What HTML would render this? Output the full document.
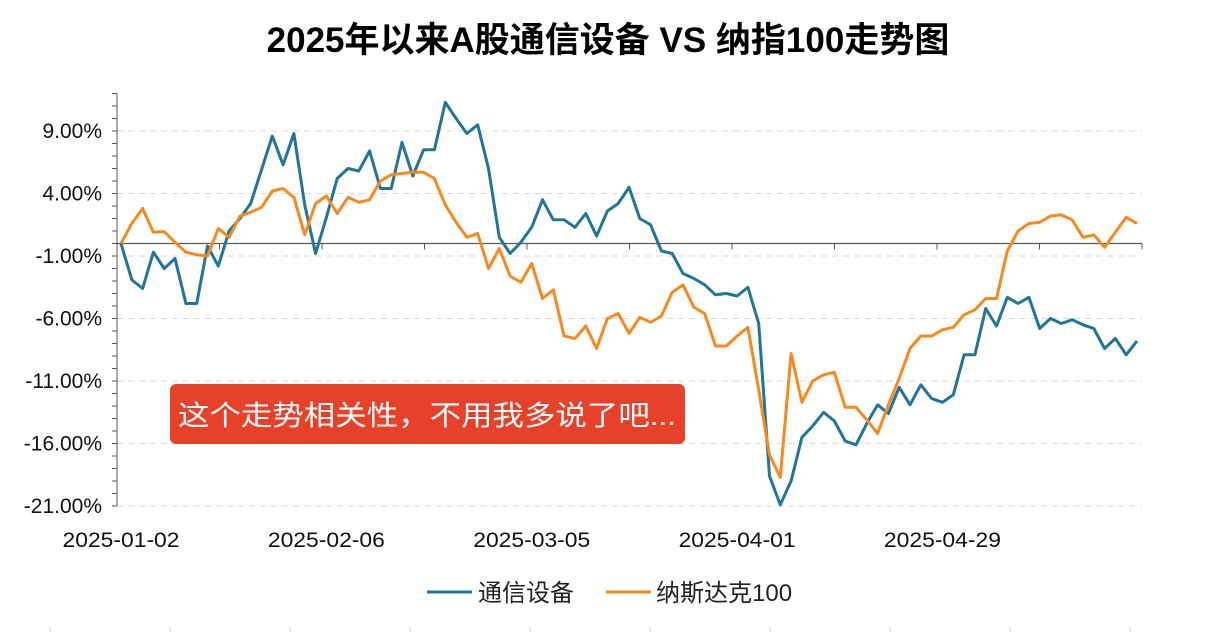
<!DOCTYPE html>
<html><head><meta charset="utf-8"><style>
html,body{margin:0;padding:0;background:#fff;}
svg{display:block;font-family:"Liberation Sans","Noto Sans CJK SC",sans-serif;}
</style></head><body>
<svg id="chart" width="1217" height="632" viewBox="0 0 1217 632" xmlns="http://www.w3.org/2000/svg">
<text x="608" y="52" text-anchor="middle" font-size="35" font-weight="bold" fill="#000">2025年以来A股通信设备 VS 纳指100走势图</text>
<g id="grid"></g>
<g id="axes"></g>
<g id="series"></g>
<g>
<rect x="170" y="384" width="515" height="60" rx="6" fill="#e8412a"/>
<text x="178" y="425" font-size="28" fill="#fff" textLength="498" lengthAdjust="spacingAndGlyphs">这个走势相关性，不用我多说了吧...</text>
</g>
<g>
<line x1="427" y1="592" x2="472" y2="592" stroke="#21759b" stroke-width="3"/>
<text x="478" y="601" font-size="24" fill="#222">通信设备</text>
<line x1="606" y1="592" x2="651" y2="592" stroke="#f6891f" stroke-width="3"/>
<text x="656" y="601" font-size="24" fill="#222">纳斯达克100</text>
</g>
<g id="bticks"></g>
</svg>
<script>
const categories = ["2025-01-02","2025-02-06","2025-03-05","2025-04-01","2025-04-29"];
const labelIndex = [0,19,38,57,76];
const yTicks = [9,4,-1,-6,-11,-16,-21];
const telecom = [0,-2.9,-3.6,-0.7,-2.0,-1.2,-4.8,-4.8,-0.2,-1.8,1.0,2.0,3.2,5.9,8.6,6.3,8.8,3.1,-0.8,2.1,5.2,6.0,5.8,7.4,4.4,4.4,8.1,5.4,7.5,7.5,11.3,10.0,8.8,9.5,6.0,0.5,-0.8,0.1,1.3,3.5,1.9,1.9,1.3,2.4,0.6,2.6,3.2,4.5,2.0,1.5,-0.6,-0.8,-2.4,-2.8,-3.3,-4.1,-4.0,-4.2,-3.5,-6.4,-18.6,-20.9,-19.0,-15.5,-14.6,-13.5,-14.2,-15.8,-16.1,-14.4,-12.9,-13.6,-11.5,-12.9,-11.3,-12.4,-12.7,-12.1,-8.9,-8.9,-5.2,-6.6,-4.3,-4.8,-4.3,-6.8,-6.0,-6.4,-6.1,-6.5,-6.8,-8.4,-7.6,-8.9,-7.8];
const nasdaq = [0,1.6,2.8,0.9,0.95,0.1,-0.7,-0.9,-1.0,1.2,0.5,2.2,2.5,2.9,4.2,4.4,3.7,0.7,3.2,3.8,2.4,3.7,3.3,3.5,5.0,5.5,5.6,5.7,5.7,5.2,3.1,1.7,0.5,0.8,-2.0,-0.4,-2.6,-3.1,-1.6,-4.4,-3.7,-7.4,-7.6,-6.6,-8.4,-6.0,-5.6,-7.2,-5.9,-6.3,-5.8,-3.9,-3.3,-5.1,-5.6,-8.2,-8.2,-7.4,-6.7,-11.7,-16.9,-18.7,-8.8,-12.7,-11.0,-10.5,-10.3,-13.1,-13.1,-14.1,-15.2,-12.9,-10.8,-8.4,-7.4,-7.4,-6.9,-6.7,-5.7,-5.3,-4.4,-4.4,-0.6,1.0,1.6,1.7,2.2,2.3,1.9,0.5,0.7,-0.3,0.9,2.1,1.6];

const NS="http://www.w3.org/2000/svg";
const xLeft=117,xRight=1142,yMin=-21,yMax=12,yTop=93.5,yBot=506;
const nPts=telecom.length;
const step=(1137-121)/(nPts-1);
function xs(i){return 121+step*i;}
function ys(v){return yBot-(v-yMin)/(yMax-yMin)*(yBot-yTop);}
function mk(tag,attrs,parent){const e=document.createElementNS(NS,tag);for(const k in attrs)e.setAttribute(k,attrs[k]);parent.appendChild(e);return e;}
const grid=document.getElementById('grid'),axes=document.getElementById('axes'),series=document.getElementById('series'),bt=document.getElementById('bticks');

yTicks.forEach((t,k)=>{
  const y=ys(t);
  const g=mk('line',{x1:xLeft,x2:xRight,y1:y,y2:y,stroke:'#d9d9d9','stroke-width':1,'stroke-dasharray':'6,5'},grid);
  
  
  const tx=mk('text',{x:102,y:y+7,'text-anchor':'end','font-size':21,fill:'#111'},axes);
  tx.textContent=t.toFixed(2)+'%';
  
  
});
const ya=mk('line',{x1:xLeft,x2:xLeft,y1:yTop,y2:yBot,stroke:'#555','stroke-width':1},axes);


for(let v=yMin;v<=yMax;v++){
  const t=mk('line',{x1:xLeft-5,x2:xLeft,y1:ys(v),y2:ys(v),stroke:'#555','stroke-width':1},axes);
  
  
}
const xa=mk('line',{x1:xLeft,x2:xRight,y1:ys(0),y2:ys(0),stroke:'#595959','stroke-width':1.3},axes);


for(let k=0;k<=10;k++){
  const x=xLeft+k*(xRight-xLeft)/10;
  const t=mk('line',{x1:x,x2:x,y1:ys(0),y2:ys(0)+6,stroke:'#595959','stroke-width':1},axes);
  
  
}
categories.forEach((c,k)=>{
  const tx=mk('text',{x:xs(labelIndex[k]),y:547,'text-anchor':'middle','font-size':21,fill:'#111',textLength:117,lengthAdjust:'spacingAndGlyphs'},axes);
  tx.textContent=c;
  
  
});
function draw(data,color,name){
  const d=data.map((v,i)=>(i?'L':'M')+xs(i).toFixed(1)+','+ys(v).toFixed(1)).join('');
  const p=mk('path',{d:d,fill:'none',stroke:color,'stroke-width':3,'stroke-linejoin':'round'},series);
  
  
}
draw(telecom,'#21759b','line-telecom');
draw(nasdaq,'#f6891f','line-nasdaq');
for(let k=0;k<10;k++){
  const x=50+k*120;
  const t=mk('line',{x1:x,x2:x,y1:627,y2:632,stroke:'#ccc','stroke-width':1},bt);
  
  
}
</script>
</body></html>
